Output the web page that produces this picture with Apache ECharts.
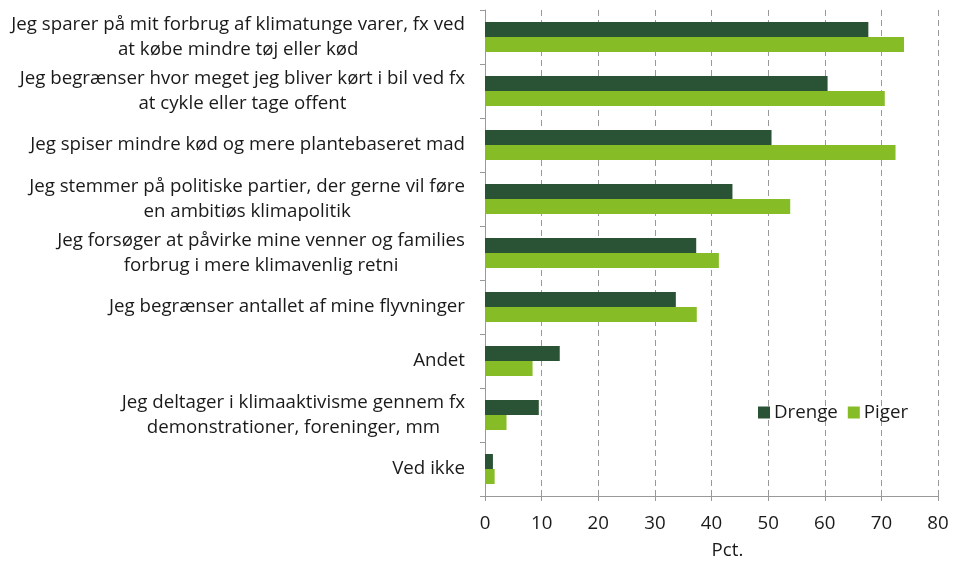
<!DOCTYPE html>
<html>
<head>
<meta charset="utf-8">
<script src="https://cdn.jsdelivr.net/npm/echarts@6/dist/echarts.min.js"></script>
<style>
html, body { margin: 0; padding: 0; background: #fff; }
#main { width: 955px; height: 563px; }
</style>
</head>
<body>
<div id="main"></div>
<script>
var categories = [
    'Jeg sparer på mit forbrug af klimatunge varer, fx ved\nat købe mindre tøj eller kød',
    'Jeg begrænser hvor meget jeg bliver kørt i bil ved fx\nat cykle eller tage offent',
    'Jeg spiser mindre kød og mere plantebaseret mad',
    'Jeg stemmer på politiske partier, der gerne vil føre\nen ambitiøs klimapolitik',
    'Jeg forsøger at påvirke mine venner og families\nforbrug i mere klimavenlig retni',
    'Jeg begrænser antallet af mine flyvninger',
    'Andet',
    'Jeg deltager i klimaaktivisme gennem fx\ndemonstrationer, foreninger, mm',
    'Ved ikke'
];
var drenge = [67.7, 60.5, 50.6, 43.7, 37.3, 33.7, 13.2, 9.5, 1.4];
var piger = [74.0, 70.6, 72.5, 53.9, 41.3, 37.4, 8.4, 3.8, 1.7];
var xTicks = [0, 10, 20, 30, 40, 50, 60, 70, 80];

var font = '"Open Sans", "Noto Sans", sans-serif';
var fs = 18.7;
var txt = '#1a1a1a';
var myChart = echarts.init(document.getElementById('main'));
var option = {
    animation: false,
    textStyle: { fontFamily: font },
    grid: { left: 485, right: 17, top: 10, bottom: 67, outerBoundsMode: 'none' },
    legend: {
        left: 753,
        top: 398,
        itemWidth: 12,
        itemHeight: 12,
        itemGap: 10,
        icon: 'rect',
        textStyle: { fontSize: fs, color: txt, fontFamily: font, padding: [0, 0, 0, -1] },
        data: ['Drenge', 'Piger']
    },
    xAxis: {
        type: 'value',
        min: xTicks[0],
        max: xTicks[xTicks.length - 1],
        interval: 10,
        name: 'Pct.',
        nameLocation: 'middle',
        nameGap: 45,
        nameTextStyle: { fontSize: fs, color: txt, padding: [0, 0, 0, 32] },
        axisLine: { show: true, lineStyle: { color: '#999' } },
        axisTick: { show: true, length: 5, lineStyle: { color: '#999' } },
        axisLabel: { fontSize: fs, color: txt, margin: 18 },
        splitLine: { show: true, lineStyle: { color: '#999', type: [6, 4] } }
    },
    yAxis: {
        type: 'category',
        inverse: true,
        data: categories,
        axisLine: { show: true, lineStyle: { color: '#999' } },
        axisTick: { show: true, length: 5, lineStyle: { color: '#999' } },
        axisLabel: {
            fontSize: fs,
            color: txt,
            margin: 20,
            lineHeight: 25,
            formatter: function (v) {
                return v.split('\n').map(function (s) { return '{c|' + s + '}'; }).join('\n');
            },
            rich: {
                c: { align: 'center', fontSize: fs, lineHeight: 25, color: txt, fontFamily: font }
            }
        }
    },
    series: [{
        name: 'Drenge',
        type: 'bar',
        data: drenge,
        barWidth: 15,
        barGap: '0%',
        itemStyle: { color: '#2a5234' }
    }, {
        name: 'Piger',
        type: 'bar',
        data: piger,
        barWidth: 15,
        barGap: '0%',
        itemStyle: { color: '#86bc25' }
    }]
};
myChart.setOption(option);
</script>
</body>
</html>
